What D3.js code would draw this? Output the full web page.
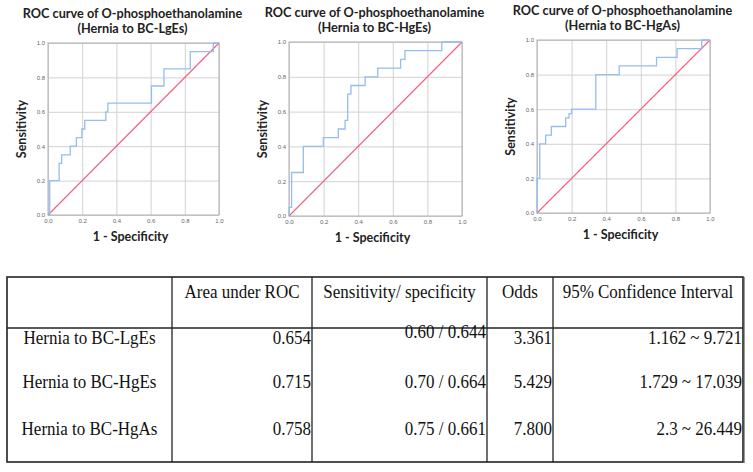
<!DOCTYPE html>
<html><head><meta charset="utf-8">
<script src="https://cdn.jsdelivr.net/npm/d3@7"></script>
<style>body{margin:0;background:#fff} svg{display:block}</style>
</head><body><svg id="c" width="753" height="472"></svg>
<script>
// ---- data ----
const chartTitle = "ROC curve of O-phosphoethanolamine";
const chartSubtitles = ["(Hernia to BC-LgEs)", "(Hernia to BC-HgEs)", "(Hernia to BC-HgAs)"];
const fprLgEs = [0, 0.01, 0.065, 0.08, 0.13, 0.166, 0.198, 0.215, 0.338, 0.35, 0.605, 0.678, 0.832, 0.967, 1.0];
const tprLgEs = [0, 0.2, 0.3, 0.35, 0.4, 0.45, 0.5, 0.55, 0.6, 0.65, 0.75, 0.85, 0.95, 1.0, 1.0];
const fprHgEs = [0, 0, 0.015, 0.083, 0.198, 0.285, 0.324, 0.339, 0.358, 0.44, 0.513, 0.645, 0.67, 0.883, 1.0];
const tprHgEs = [0, 0.05, 0.25, 0.4, 0.45, 0.5, 0.55, 0.7, 0.75, 0.8, 0.85, 0.9, 0.95, 1.0, 1.0];
const fprHgAs = [0, 0, 0.016, 0.05, 0.083, 0.166, 0.185, 0.2, 0.34, 0.475, 0.691, 0.81, 0.952, 1.0];
const tprHgAs = [0, 0.2, 0.4, 0.45, 0.5, 0.55, 0.575, 0.6, 0.8, 0.85, 0.9, 0.95, 1.0, 1.0];
const tickValues = [0, 0.2, 0.4, 0.6, 0.8, 1.0];
const xAxisTitle = "1 - Specificity";
const yAxisTitle = "Sensitivity";

const tableHeaders = ["", "Area under ROC", "Sensitivity/ specificity", "Odds", "95% Confidence Interval"];
const rowLabels = ["Hernia to BC-LgEs", "Hernia to BC-HgEs", "Hernia to BC-HgAs"];
const aucValues = ["0.654", "0.715", "0.758"];
const sensSpecValues = ["0.60 / 0.644", "0.70 / 0.664", "0.75 / 0.661"];
const oddsValues = ["3.361", "5.429", "7.800"];
const ciValues = ["1.162 ~ 9.721", "1.729 ~ 17.039", "2.3 ~ 26.449"];

// ---- drawing ----
const svg = d3.select("#c");
const curves = [
  d3.zip(fprLgEs, tprLgEs),
  d3.zip(fprHgEs, tprHgEs),
  d3.zip(fprHgAs, tprHgAs)
];
const panels = [
  {x0: 48, x1: 219, y0: 43, y1: 215},
  {x0: 289, x1: 462, y0: 42, y1: 216},
  {x0: 537, x1: 710, y0: 40, y1: 213}
];
const sansBold = "Lato, 'Open Sans', sans-serif";

panels.forEach((p, i) => {
  const x = d3.scaleLinear().domain([0, 1]).range([p.x0, p.x1]);
  const y = d3.scaleLinear().domain([0, 1]).range([p.y1, p.y0]);
  const g = svg.append("g");
  const w = p.x1 - p.x0, h = p.y1 - p.y0;

  // grid
  const gx = g.append("g").attr("transform", `translate(0,${p.y1})`)
    .call(d3.axisBottom(x).tickValues(tickValues).tickSize(-h).tickFormat(d3.format(".1f")).tickPadding(4));
  const gy = g.append("g").attr("transform", `translate(${p.x0},0)`)
    .call(d3.axisLeft(y).tickValues(tickValues).tickSize(-w).tickFormat(d3.format(".1f")).tickPadding(3));
  [gx, gy].forEach(a => {
    a.select(".domain").remove();
    a.selectAll(".tick line").attr("stroke", "#d2d2d2").attr("stroke-width", 1);
    a.selectAll(".tick text").attr("fill", "#666").style("font-family", "'Liberation Sans', Arial, sans-serif").style("font-size", "6px");
  });
  // frame
  g.append("rect").attr("x", p.x0).attr("y", p.y0).attr("width", w).attr("height", h)
    .attr("fill", "none").attr("stroke", "#b0b0b0").attr("stroke-width", 1);

  // reference diagonal
  g.append("path").datum([[0, 0], [1, 1]])
    .attr("d", d3.line().x(d => x(d[0])).y(d => y(d[1])))
    .attr("stroke", "#f0607e").attr("stroke-width", 1.1).attr("fill", "none");
  // ROC curve
  g.append("path").datum(curves[i])
    .attr("d", d3.line().x(d => x(d[0])).y(d => y(d[1])).curve(d3.curveStepAfter))
    .attr("stroke", "#94bdf0").attr("stroke-width", 1.3).attr("fill", "none");

  const cx = (p.x0 + p.x1) / 2;
  g.append("text").attr("x", cx - 1).attr("y", p.y0 - 29).attr("dy", "0.35em")
    .attr("text-anchor", "middle").style("font-family", sansBold).style("font-weight", "bold")
    .style("font-size", "12.7px").attr("fill", "#222").text(chartTitle);
  g.append("text").attr("x", cx - 1).attr("y", p.y0 - 14).attr("dy", "0.35em")
    .attr("text-anchor", "middle").style("font-family", sansBold).style("font-weight", "bold")
    .style("font-size", "12.7px").attr("fill", "#222").text(chartSubtitles[i]);
  g.append("text").attr("transform", `translate(${p.x0 - 26},${(p.y0 + p.y1) / 2}) rotate(-90)`)
    .attr("dy", "0.35em").attr("text-anchor", "middle").style("font-family", sansBold).style("font-weight", "bold")
    .style("font-size", "12.5px").attr("fill", "#222").text(yAxisTitle);
  g.append("text").attr("x", cx - 3).attr("y", p.y1 + 22).attr("dy", "0.35em")
    .attr("text-anchor", "middle").style("font-family", sansBold).style("font-weight", "bold")
    .style("font-size", "12.5px").attr("fill", "#222").text(xAxisTitle);
});

// ---- table ----
const colEdges = [7, 172, 312, 487, 553, 743];
const tTop = 277, tHead = 328, tBottom = 462;
const headerY = 291;
const rowY = [337, 381, 428];
const tg = svg.append("g");
const serif = "'Liberation Serif', 'Times New Roman', serif";
tg.append("rect").attr("x", colEdges[0]).attr("y", tTop)
  .attr("width", colEdges[5] - colEdges[0]).attr("height", tBottom - tTop)
  .attr("fill", "none").attr("stroke", "#222").attr("stroke-width", 1.6);
tg.append("line").attr("x1", colEdges[5] + 1.5).attr("x2", colEdges[5] + 1.5).attr("y1", tTop).attr("y2", tBottom + 1)
  .attr("stroke", "#999").attr("stroke-width", 1);
tg.append("line").attr("x1", colEdges[0]).attr("x2", colEdges[5]).attr("y1", tHead).attr("y2", tHead)
  .attr("stroke", "#222").attr("stroke-width", 1.3);
colEdges.slice(1, 5).forEach(cx => {
  tg.append("line").attr("x1", cx).attr("x2", cx).attr("y1", tTop).attr("y2", tBottom)
    .attr("stroke", "#222").attr("stroke-width", 1.3);
});
function cell(xp, yp, anchor, txt) {
  tg.append("text").attr("transform", `translate(${xp},${yp}) scale(1,1.15)`)
    .attr("dy", "0.35em").attr("text-anchor", anchor)
    .style("font-family", serif).style("font-size", "17px").attr("fill", "#111").text(txt);
}
tableHeaders.forEach((hdr, j) => {
  cell((colEdges[j] + colEdges[j + 1]) / 2, headerY, "middle", hdr);
});
const cols = [aucValues, sensSpecValues, oddsValues, ciValues];
rowLabels.forEach((lab, r) => {
  cell((colEdges[0] + colEdges[1]) / 2, rowY[r], "middle", lab);
  cols.forEach((arr, j) => {
    const yy = (j === 1 && r === 0) ? rowY[r] - 6 : rowY[r];
    cell(colEdges[j + 2] - 1, yy, "end", arr[r]);
  });
});
</script></body></html>
